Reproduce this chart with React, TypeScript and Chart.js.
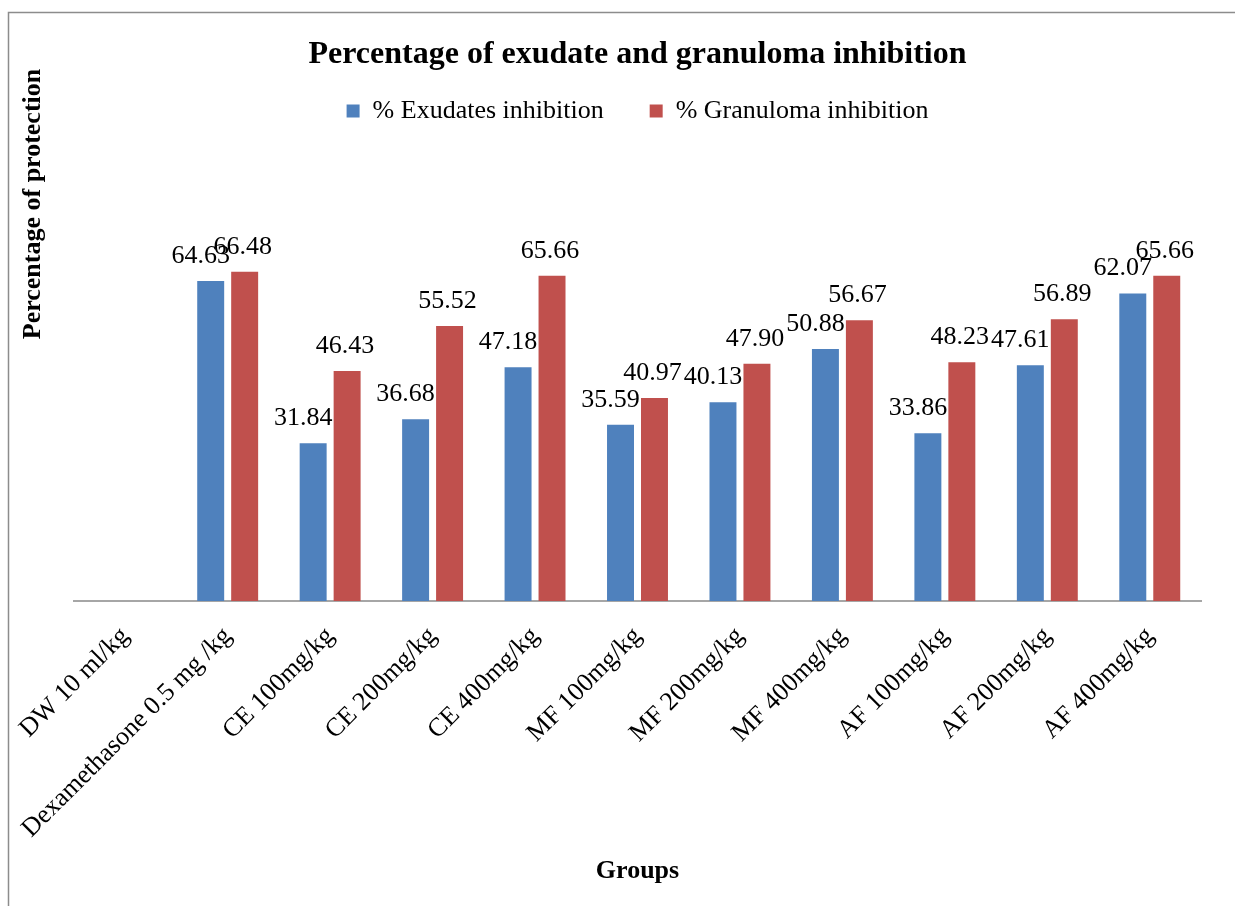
import React, { useEffect, useRef } from "react";
import { Chart, registerables } from "chart.js";

Chart.register(...registerables);

const categories = [
  "DW 10 ml/kg",
  "Dexamethasone 0.5 mg /kg",
  "CE 100mg/kg",
  "CE 200mg/kg",
  "CE 400mg/kg",
  "MF 100mg/kg",
  "MF 200mg/kg",
  "MF 400mg/kg",
  "AF 100mg/kg",
  "AF 200mg/kg",
  "AF 400mg/kg",
];
const exudates: (number | null)[] = [null, 64.63, 31.84, 36.68, 47.18, 35.59, 40.13, 50.88, 33.86, 47.61, 62.07];
const granuloma: (number | null)[] = [null, 66.48, 46.43, 55.52, 65.66, 40.97, 47.9, 56.67, 48.23, 56.89, 65.66];

const SERIF = "'Liberation Serif', 'Times New Roman', serif";

const overlay = {
  id: "overlay",
  beforeDraw(chart: any) {
    const ctx = chart.ctx;
    ctx.save();
    ctx.strokeStyle = "#8c8c8c";
    ctx.lineWidth = 1.5;
    ctx.strokeRect(8.5, 12.5, 1300, 1000);
    ctx.restore();
  },
  afterDatasetsDraw(chart: any) {
    const ctx = chart.ctx;
    ctx.save();
    ctx.font = `26px ${SERIF}`;
    ctx.fillStyle = "#000";
    ctx.textAlign = "center";
    ctx.textBaseline = "middle";
    chart.data.datasets.forEach((ds: any, di: number) => {
      const meta = chart.getDatasetMeta(di);
      meta.data.forEach((bar: any, i: number) => {
        const v = ds.data[i];
        if (v == null) return;
        const dx = di === 0 ? -10 : -2;
        ctx.fillText(v.toFixed(2), bar.x + dx, bar.y - 25);
      });
    });
    ctx.restore();
  },
  afterDraw(chart: any) {
    const ctx = chart.ctx;
    const ca = chart.chartArea;
    ctx.save();
    ctx.fillStyle = "#000";
    ctx.textAlign = "center";
    ctx.textBaseline = "middle";
    ctx.font = `bold 26px ${SERIF}`;
    ctx.fillText("Groups", (ca.left + ca.right) / 2, 871);
    ctx.translate(33, 204);
    ctx.rotate(-Math.PI / 2);
    ctx.font = `bold 26px ${SERIF}`;
    ctx.fillText("Percentage of protection", 0, 0);
    ctx.restore();
  },
};

export default function App() {
  const ref = useRef<HTMLCanvasElement>(null);
  useEffect(() => {
    if (!ref.current) return;
    const chart = new Chart(ref.current, {
      type: "bar",
      data: {
        labels: categories,
        datasets: [
          {
            label: "% Exudates inhibition",
            data: exudates,
            backgroundColor: "#4F81BD",
            categoryPercentage: 0.663,
            barPercentage: 0.794,
          },
          {
            label: "% Granuloma inhibition",
            data: granuloma,
            backgroundColor: "#C0504D",
            categoryPercentage: 0.663,
            barPercentage: 0.794,
          },
        ],
      },
      options: {
        responsive: false,
        animation: false,
        layout: { padding: { left: 74, right: 34, top: 20, bottom: 0 } },
        plugins: {
          title: {
            display: true,
            text: "Percentage of exudate and granuloma inhibition",
            color: "#000",
            font: { family: SERIF, size: 32, weight: "bold" },
            padding: { top: 16, bottom: -22.4 },
          },
          legend: {
            display: true,
            labels: {
              color: "#000",
              font: { family: SERIF, size: 26 },
              boxWidth: 13,
              boxHeight: 13,
              padding: 46,
            },
          },
          tooltip: { enabled: false },
        },
        scales: {
          x: {
            grid: { display: false },
            border: { color: "#a6a6a6", width: 2 },
            ticks: {
              color: "#000",
              font: { family: SERIF, size: 26 },
              minRotation: 45,
              maxRotation: 45,
              padding: 12,
            },
            afterFit(scale: any) {
              scale.height = 305;
            },
          },
          y: {
            display: false,
            min: 0,
            max: 94.3,
          },
        },
      },
      plugins: [overlay],
    });
    return () => chart.destroy();
  }, []);
  return (
    <div style={{ position: "fixed", left: 0, top: 0, width: 1235, height: 906, background: "#fff" }}>
      <canvas ref={ref} width={1235} height={906} style={{ display: "block" }} />
    </div>
  );
}
